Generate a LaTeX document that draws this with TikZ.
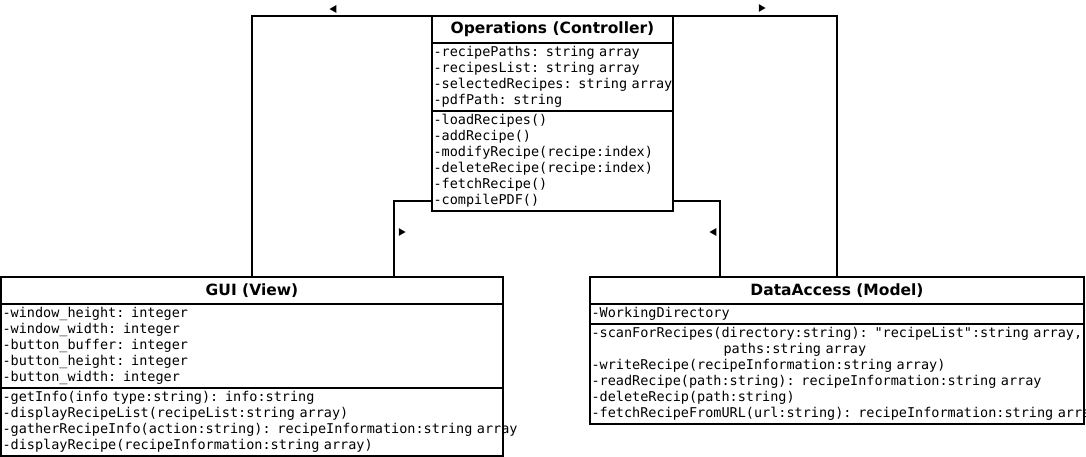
\documentclass[tikz,border=0pt]{standalone}
\usepackage{fontspec}
\usetikzlibrary{positioning, shapes.geometric}
\newfontfamily\umlsans{DejaVu Sans}
\newfontfamily\umlmono{DejaVu Sans Mono}[WordSpace={1,0,0}]
\tikzset{
  umlhead/.style={draw, line width=2pt, outer sep=0pt, inner sep=0pt, minimum height=27pt,
                  font=\umlsans\bfseries\fontsize{15.5}{17}\selectfont},
  umlpart/.style={draw, line width=2pt, outer sep=0pt, inner xsep=1.5pt, inner ysep=2pt, align=left,
                  font=\umlmono\fontsize{13.5}{16}\selectfont,
                  execute at begin node=\strut, execute at end node=\strut},
  umlassoc/.style={line width=2pt},
  dirmark/.style={regular polygon, regular polygon sides=3, fill=black, inner sep=0pt, minimum size=9pt},
}

\begin{document}
\begin{tikzpicture}[x=1pt, y=-1pt]
\useasboundingbox (0,0) rectangle (1086,457);
\node[umlhead, minimum width=241pt, anchor=north west] (opHead) at (432,16) {Operations (Controller)};
\node[umlpart, text width=238pt, below=0pt of opHead] (opAttr) {-recipePaths: string array\\ -recipesList: string array\\ \mbox{-selectedRecipes: string array}\\ -pdfPath: string};
\node[umlpart, text width=238pt, below=0pt of opAttr] (opOps) {-loadRecipes()\\ -addRecipe()\\ -modifyRecipe(recipe:index)\\ -deleteRecipe(recipe:index)\\ -fetchRecipe()\\ -compilePDF()};

\node[umlhead, minimum width=502pt, anchor=north west] (guiHead) at (1,277) {GUI (View)};
\node[umlpart, text width=499pt, below=0pt of guiHead] (guiAttr) {-window\_height: integer\\ -window\_width: integer\\ -button\_buffer: integer\\ -button\_height: integer\\ -button\_width: integer};
\node[umlpart, text width=499pt, below=0pt of guiAttr] (guiOps) {-getInfo(info type:string): info:string\\ -displayRecipeList(recipeList:string array)\\ \mbox{-gatherRecipeInfo(action:string): recipeInformation:string array}\\ -displayRecipe(recipeInformation:string array)};

\node[umlhead, minimum width=494pt, anchor=north west] (daHead) at (590,277) {DataAccess (Model)};
\node[umlpart, text width=491pt, below=0pt of daHead] (daAttr) {-WorkingDirectory};
\node[umlpart, text width=491pt, below=0pt of daAttr] (daOps) {\mbox{-scanForRecipes(directory:string): "recipeList":string array,}\\ \hspace*{132pt}paths:string array\\ -writeRecipe(recipeInformation:string array)\\ -readRecipe(path:string): recipeInformation:string array\\ -deleteRecip(path:string)\\ \mbox{-fetchRecipeFromURL(url:string): recipeInformation:string array}};

\draw[umlassoc] (guiHead.north) |- (opHead.north west);
\draw[umlassoc] (daHead.north) |- (opHead.north east);
\draw[umlassoc] ([yshift=10pt]opOps.south west) -| ([xshift=142pt]guiHead.north);
\draw[umlassoc] ([yshift=10pt]opOps.south east) -| ([xshift=-117pt]daHead.north);

\node[dirmark, shape border rotate=90] (mkGui) at (334,9) {};
\node[dirmark, shape border rotate=-90] (mkData) at (761,8) {};
\node[dirmark, shape border rotate=-90] (mkOpGui) at (401,232) {};
\node[dirmark, shape border rotate=90] (mkOpData) at (714,232) {};
\end{tikzpicture}
\end{document}
